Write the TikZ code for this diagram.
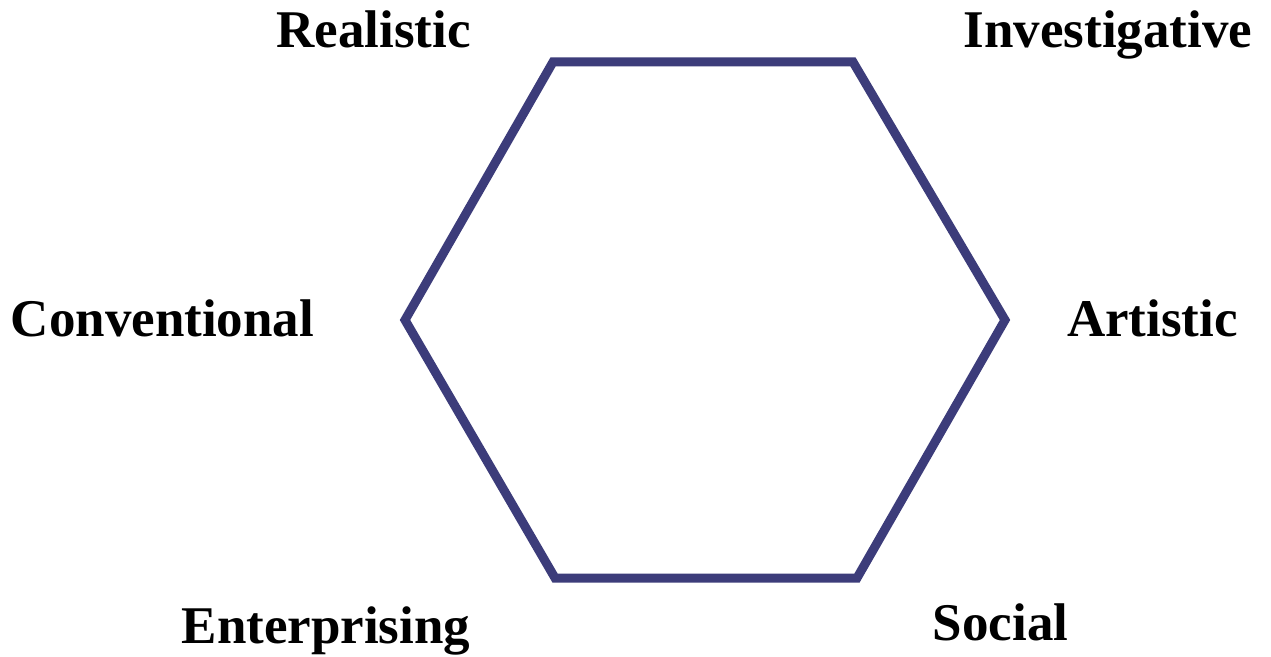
\documentclass[tikz,border=0pt]{standalone}
\usepackage{fontspec}
\setmainfont{Liberation Serif}
\usetikzlibrary{positioning}
\definecolor{hexblue}{RGB}{60,60,122}
\tikzset{
  every picture/.style={x=1pt,y=1pt},
  trait/.style={font=\fontsize{53}{60}\selectfont\bfseries,inner sep=0pt,anchor=base},
  hexline/.style={draw=hexblue,line width=9pt,line join=miter},
}
\begin{document}
\begin{tikzpicture}
  \useasboundingbox[fill=white] (0,0) rectangle (1271,656);
  % corners of the hexagon
  \coordinate (tl) at (553,594);
  \coordinate (tr) at (853,594);
  \coordinate (rt) at (1005,336);
  \coordinate (br) at (857,78);
  \coordinate (bl) at (555,78);
  \coordinate (lt) at (405,336);
  \draw[hexline] (tl) -- (tr) -- (rt) -- (br) -- (bl) -- (lt) -- cycle;
  % six types
  \node[trait] (real) at (373.5,608) {Realistic};
  \node[trait] (inv) at (1108,608) {Investigative};
  \node[trait] (conv) at (162.5,319) {Conventional};
  \node[trait] (art) at (1152.5,319) {Artistic};
  \node[trait] (ent) at (326,13) {Enterprising};
  \node[trait] (soc) at (1000.5,16) {Social};
\end{tikzpicture}
\end{document}
